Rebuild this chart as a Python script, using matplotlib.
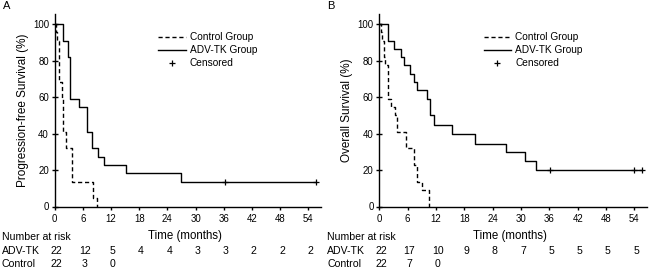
import matplotlib
matplotlib.use("Agg")
import matplotlib.pyplot as plt
from matplotlib.lines import Line2D
from matplotlib.transforms import blended_transform_factory

plt.rcParams['font.family'] = ['Liberation Sans', 'DejaVu Sans']

# ---------------- data ----------------
# Panel A: progression-free survival
pfs_adv_t = [0, 1.9, 2.9, 3.4, 5.2, 6.9, 8.0, 9.3, 10.6, 15.3, 26.8, 55.6]
pfs_adv_s = [100, 90.9, 81.8, 59.1, 54.5, 40.9, 31.8, 27.3, 22.7, 18.2, 13.6, 13.6]
pfs_adv_cens_t = [36.2, 55.6]
pfs_adv_cens_s = [13.6, 13.6]
pfs_ctl_t = [0, 0.3, 0.6, 0.9, 1.6, 1.8, 2.4, 3.8, 8.2, 9.0]
pfs_ctl_s = [100, 95.5, 90.9, 68.2, 59.1, 40.9, 31.8, 13.6, 4.5, 0]

# Panel B: overall survival
os_adv_t = [0, 1.9, 3.1, 4.5, 5.3, 6.6, 7.3, 8.0, 10.0, 10.7, 11.6, 15.4, 20.2,
            26.8, 30.9, 33.1, 55.6]
os_adv_s = [100, 90.9, 86.4, 81.8, 77.3, 72.7, 68.2, 63.6, 59.1, 50.0, 44.7,
            40.0, 34.5, 30.0, 24.8, 20.0, 20.0]
os_adv_cens_t = [36.2, 54.0, 55.5]
os_adv_cens_s = [20.0, 20.0, 20.0]
os_ctl_t = [0, 0.3, 0.6, 0.9, 1.2, 1.8, 2.5, 3.3, 3.8, 5.7, 7.3, 8.0, 9.0, 10.5]
os_ctl_s = [100, 95.5, 90.9, 81.8, 77.3, 59.1, 54.5, 50.0, 40.9, 31.8, 22.7,
            13.6, 9.1, 0]

risk_times = [0, 6, 12, 18, 24, 30, 36, 42, 48, 54]
pfs_risk_adv = [22, 12, 5, 4, 4, 3, 3, 2, 2, 2]
pfs_risk_ctl = [22, 3, 0]
os_risk_adv = [22, 17, 10, 9, 8, 7, 5, 5, 5, 5]
os_risk_ctl = [22, 7, 0]

x_ticks = [0, 6, 12, 18, 24, 30, 36, 42, 48, 54]
y_ticks = [0, 20, 40, 60, 80, 100]

# ---------------- figure ----------------
W, H = 650, 270
fig = plt.figure(figsize=(W / 100, H / 100), dpi=100)

def fx(px):
    return px / W

def fy(py):
    return 1 - py / H

panels = [
    dict(left=54.5, right=320.7, letter='A', letter_x=3, rowlab_x=2,
         ylabel='Progression-free Survival (%)',
         adv=(pfs_adv_t, pfs_adv_s), ctl=(pfs_ctl_t, pfs_ctl_s),
         cens=(pfs_adv_cens_t, pfs_adv_cens_s),
         risk_adv=pfs_risk_adv, risk_ctl=pfs_risk_ctl),
    dict(left=379.3, right=646.7, letter='B', letter_x=327, rowlab_x=327,
         ylabel='Overall Survival (%)',
         adv=(os_adv_t, os_adv_s), ctl=(os_ctl_t, os_ctl_s),
         cens=(os_adv_cens_t, os_adv_cens_s),
         risk_adv=os_risk_adv, risk_ctl=os_risk_ctl),
]

top_px, bot_px = 14, 206.5
fs_tick = 6.9
fs_risk = 7.6

for p in panels:
    ax = fig.add_axes([fx(p['left']), fy(bot_px), fx(p['right'] - p['left']),
                       (bot_px - top_px) / H])
    ax.step(p['ctl'][0], p['ctl'][1], where='post', color='black', lw=1.0,
            ls=(0, (3, 2)))
    ax.step(p['adv'][0], p['adv'][1], where='post', color='black', lw=1.0)
    ax.plot(p['cens'][0], p['cens'][1], ls='none', marker='+', color='black',
            ms=5, mew=0.9)
    ax.set_xlim(0, 56.6)
    ax.set_ylim(0, 105.5)
    ax.set_xticks(x_ticks)
    ax.set_yticks(y_ticks)
    for s in ['top', 'right']:
        ax.spines[s].set_visible(False)
    for s in ['left', 'bottom']:
        ax.spines[s].set_linewidth(1.0)
    ax.tick_params(axis='x', direction='out', length=2.5, width=1.0,
                   labelsize=fs_tick, pad=3)
    ax.tick_params(axis='y', direction='inout', length=4, width=1.0,
                   labelsize=fs_tick, pad=2)
    ax.set_ylabel(p['ylabel'], fontsize=8.5, labelpad=3)

    handles = [Line2D([], [], color='black', lw=1.0, ls=(0, (3, 2))),
               Line2D([], [], color='black', lw=1.0),
               Line2D([], [], color='black', ls='none', marker='+', ms=4, mew=0.9)]
    ax.legend(handles, ['Control Group', 'ADV-TK Group', 'Censored'],
              loc='upper left', bbox_to_anchor=(0.39, 0.905), frameon=False,
              fontsize=7.3, handlelength=2.7, handletextpad=0.4,
              labelspacing=0.3, borderpad=0, borderaxespad=0)

    fig.text(fx(p['letter_x']), fy(6), p['letter'], fontsize=8,
             ha='left', va='center')

    # x label
    ax_center = (p['left'] + p['right']) / 2 - 3
    fig.text(fx(ax_center), fy(236), 'Time (months)', fontsize=8.3,
             ha='center', va='center')

    # number at risk table
    fig.text(fx(p['rowlab_x']), fy(237), 'Number at risk', fontsize=fs_risk,
             ha='left', va='center')
    fig.text(fx(p['rowlab_x']), fy(250.5), 'ADV-TK', fontsize=fs_risk,
             ha='left', va='center')
    fig.text(fx(p['rowlab_x']), fy(264), 'Control', fontsize=fs_risk,
             ha='left', va='center')
    tr = blended_transform_factory(ax.transData, fig.transFigure)
    for t, n in zip(risk_times, p['risk_adv']):
        ax.text(t + 0.4, fy(250.5), str(n), transform=tr, fontsize=fs_risk,
                ha='center', va='center', clip_on=False)
    for t, n in zip(risk_times, p['risk_ctl']):
        ax.text(t + 0.4, fy(264), str(n), transform=tr, fontsize=fs_risk,
                ha='center', va='center', clip_on=False)

fig.savefig('out.png', dpi=100)
